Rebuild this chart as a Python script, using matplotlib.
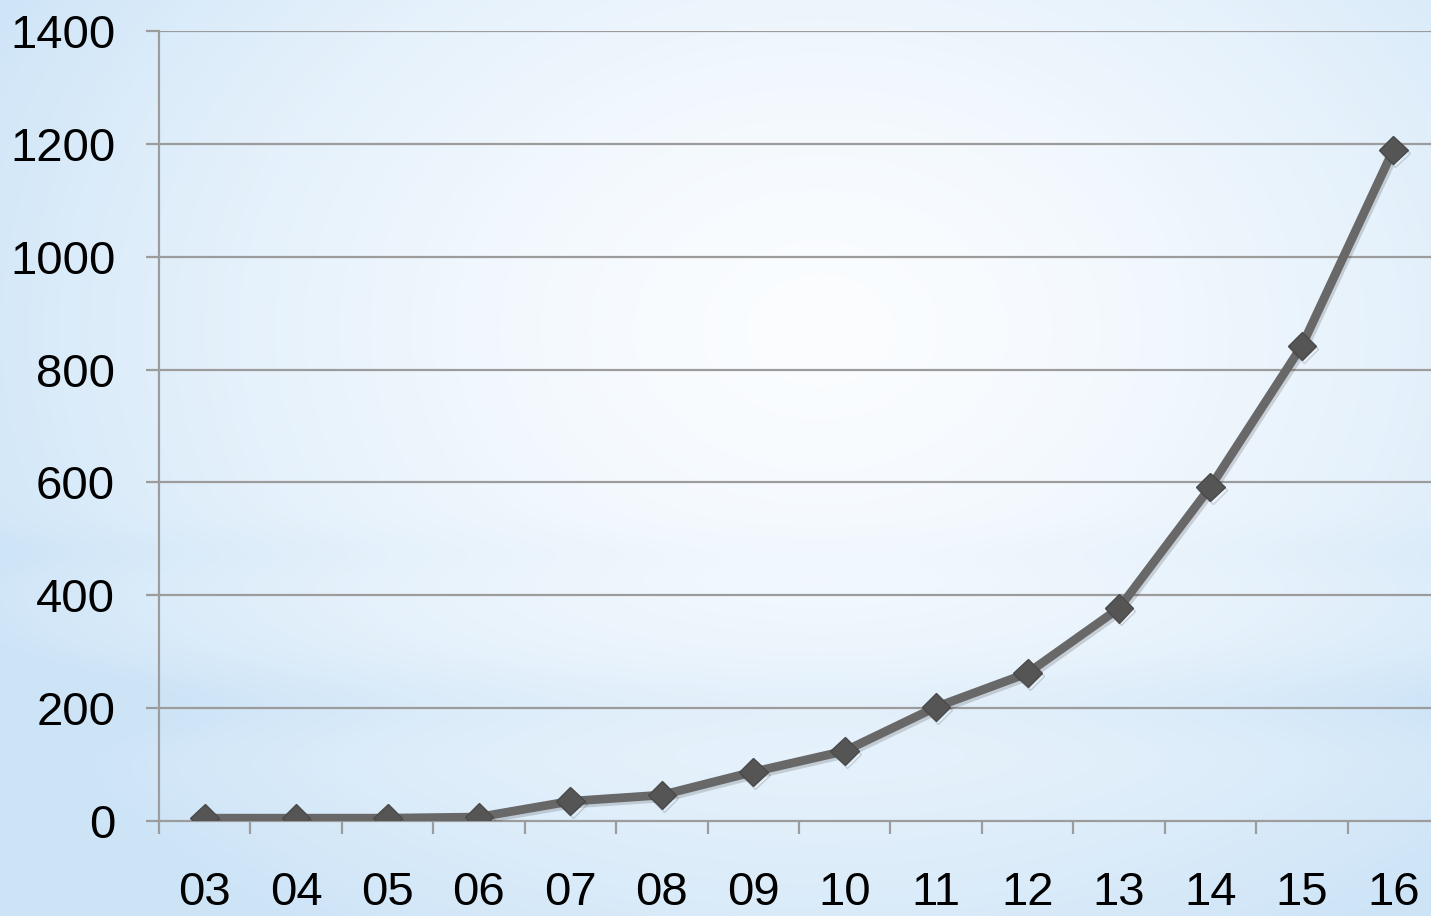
import numpy as np
import matplotlib
matplotlib.use("Agg")
import matplotlib.pyplot as plt
import matplotlib.patheffects as pe
from matplotlib.colors import to_rgb

# ---- data ----
categories = ["03", "04", "05", "06", "07", "08", "09", "10", "11", "12", "13", "14", "15", "16"]
values = [5, 5, 5, 7, 35, 46, 87, 124, 202, 262, 377, 592, 842, 1189]
y_ticks = [0, 200, 400, 600, 800, 1000, 1200, 1400]

W, H = 1431, 916
fig = plt.figure(figsize=(W / 100, H / 100), dpi=100)

# ---- background gradient ----
bg = fig.add_axes([0, 0, 1, 1], zorder=-10)
bg.set_axis_off()
yy, xx = np.mgrid[0:H, 0:W]
cx, cy = 820, 330
r = np.sqrt(((xx - cx) / 950.0) ** 2 + ((yy - cy) / 720.0) ** 2)
t = np.clip(r, 0, 1) ** 1.5
band = 0.12 * np.exp(-((yy - 550) / 25.0) ** 2) + 0.25 * np.exp(-((yy - 700) / 40.0) ** 2)
t = np.clip(t + band * (0.3 + 0.7 * t), 0, 1)
c_in = np.array(to_rgb("#fbfdff"))
c_out = np.array(to_rgb("#cde4f7"))
img = c_in[None, None, :] * (1 - t[..., None]) + c_out[None, None, :] * t[..., None]
bg.imshow(img, extent=[0, 1, 0, 1], aspect="auto", origin="upper")
bg.set_xlim(0, 1)
bg.set_ylim(0, 1)

# ---- main axes ----
left = 159 / W
bottom = (H - 821) / H
width = 1280 / W
height = 790 / H
ax = fig.add_axes([left, bottom, width, height])
ax.set_facecolor("none")

x = np.arange(len(categories))
shadow = [pe.SimpleLineShadow(offset=(1.5, -2), shadow_color="#000000", alpha=0.15), pe.Normal()]
ax.plot(x, values, color="#686868", lw=6.3, solid_joinstyle="round", zorder=3,
        path_effects=shadow)
ax.plot(x, values, linestyle="none", marker="D", markersize=14.5,
        markerfacecolor="#555555", markeredgecolor="#4a4a4a", markeredgewidth=1.0,
        zorder=4, path_effects=shadow)

ax.set_xlim(-0.5, len(categories) - 0.5)
ax.set_ylim(0, 1400)
ax.set_yticks(y_ticks)
ax.set_yticklabels([str(v) for v in y_ticks])
ax.set_xticks(x)
ax.set_xticklabels(categories)
ax.set_xticks(np.arange(-0.5, len(categories) - 0.5 + 0.01, 1.0), minor=True)

grid_c = "#9c9c9c"
for v in y_ticks[1:]:
    ax.axhline(v, color=grid_c, lw=1.6, zorder=1)

for s in ["top", "right"]:
    ax.spines[s].set_visible(False)
ax.spines["left"].set_color(grid_c)
ax.spines["left"].set_linewidth(1.6)
ax.spines["bottom"].set_color(grid_c)
ax.spines["bottom"].set_linewidth(1.6)

font = "Liberation Sans"
ax.tick_params(axis="y", which="major", length=9.5, width=1.6, color=grid_c,
               pad=22, labelsize=34, labelcolor="black")
ax.tick_params(axis="x", which="major", length=0, pad=36, labelsize=34, labelcolor="black")
ax.tick_params(axis="x", which="minor", length=9.5, width=1.6, color=grid_c, direction="out")
for lab in ax.get_xticklabels() + ax.get_yticklabels():
    lab.set_fontfamily(font)

fig.savefig("out.png", dpi=100)
